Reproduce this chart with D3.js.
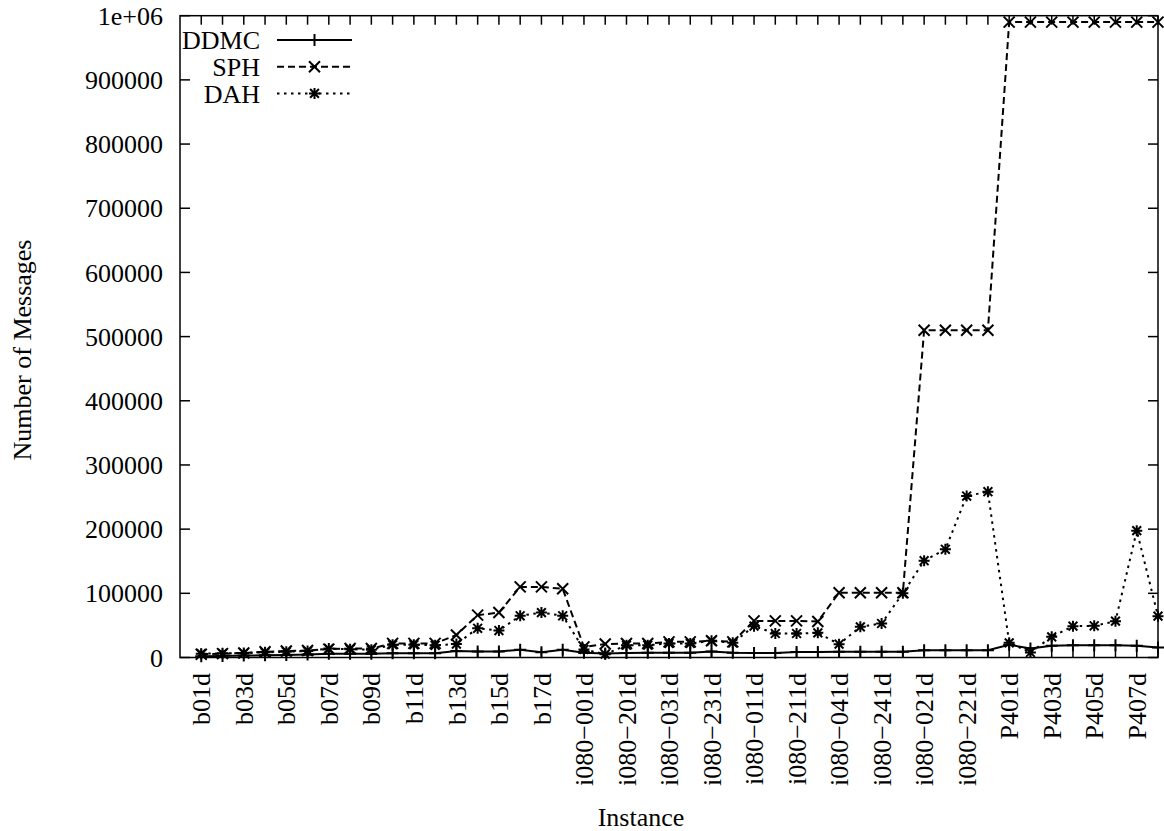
<!DOCTYPE html>
<html>
<head>
<meta charset="utf-8">
<script src="https://cdn.jsdelivr.net/npm/d3@7.9.0/dist/d3.min.js"></script>
<style>
  body { margin: 0; background: #fff; }
  svg { display: block; }
</style>
</head>
<body>
<svg id="chart" width="1164" height="831"></svg>
<script>
// instance names, in plot order
const instances = [
    'b01d', 'b02d', 'b03d', 'b04d', 'b05d', 'b06d', 'b07d', 'b08d', 'b09d',
    'b10d', 'b11d', 'b12d', 'b13d', 'b14d', 'b15d', 'b16d', 'b17d', 'b18d',
    'i080-001d', 'i080-101d', 'i080-201d', 'i080-301d',
    'i080-031d', 'i080-131d', 'i080-231d', 'i080-331d',
    'i080-011d', 'i080-111d', 'i080-211d', 'i080-311d',
    'i080-041d', 'i080-141d', 'i080-241d', 'i080-341d',
    'i080-021d', 'i080-121d', 'i080-221d', 'i080-321d',
    'P401d', 'P402d', 'P403d', 'P404d', 'P405d', 'P406d', 'P407d', 'P408d'
];

const ddmc = [
    2000, 2500, 3000, 3500, 4000, 4500, 6000, 6000, 6000, 6500, 6500, 6500,
    10000, 9500, 9500, 12000, 8000, 12000,
    7300, 6200, 7000, 7500, 7500, 7500, 9500, 7500, 7000, 7000, 8500, 8500,
    8800, 8800, 8800, 8800, 11400, 11400, 11400, 11400,
    20000, 14000, 18200, 19200, 19200, 19200, 18200, 15600
];

const sph = [
    5000, 6000, 7000, 9000, 10000, 11000, 13000, 14000, 14000, 22000, 22000, 22000,
    35000, 66000, 70000, 110000, 110000, 107000,
    16600, 21000, 21800, 21800, 24400, 24400, 26000, 24400, 57000, 57000, 57000, 56000,
    101000, 101000, 101000, 101000, 510000, 510000, 510000, 510000,
    990000, 990000, 990000, 990000, 990000, 990000, 990000, 990000
];

const dah = [
    6000, 6500, 7000, 8000, 9000, 10000, 14000, 13000, 12000, 20000, 20000, 19000,
    21000, 45500, 42000, 65000, 70000, 65000,
    12500, 5200, 19200, 19200, 21800, 21800, 26000, 22800, 48800, 37400, 37400, 38400,
    20800, 47800, 53000, 100000, 150800, 168600, 251600, 258300,
    22800, 7800, 32200, 48800, 49400, 56600, 197600, 64400
];

const yTicks = [0, 100000, 200000, 300000, 400000, 500000, 600000, 700000, 800000, 900000, 1000000];

const series = [
    { name: 'DDMC', values: ddmc, dash: null, marker: 'plus' },
    { name: 'SPH', values: sph, dash: '7,4', marker: 'cross' },
    { name: 'DAH', values: dah, dash: '2.5,4.5', marker: 'star' }
];

const plotLeft = 180, plotRight = 1158, plotTop = 15.7, plotBottom = 657.5;
const svg = d3.select('#chart').style('font-family', "'Liberation Serif', serif");

svg.append('rect').attr('width', 1164).attr('height', 831).attr('fill', '#fff');

let x = d3.scaleLinear().domain([-1, instances.length - 1]).range([plotLeft, plotRight]);
let y = d3.scaleLinear().domain([0, 1000000]).range([plotBottom, plotTop]);

// draws a gnuplot style point symbol
function drawMarker(g, type, cx, cy) {
    let s = type === 'plus' ? 6 : 5.5;
    let p = '';
    if (type === 'plus' || type === 'star') {
        p += `M${cx - s},${cy}H${cx + s}M${cx},${cy - s}V${cy + s}`;
    }
    if (type === 'cross' || type === 'star') {
        let d = type === 'star' ? s * 0.8 : s;
        p += `M${cx - d},${cy - d}L${cx + d},${cy + d}M${cx - d},${cy + d}L${cx + d},${cy - d}`;
    }
    g.append('path').attr('d', p).attr('stroke', '#000').attr('stroke-width', 2).attr('fill', 'none');
}

// ticks, inward, mirrored
let tickG = svg.append('g').attr('stroke', '#000').attr('stroke-width', 1.5);
yTicks.forEach((t) => {
    tickG.append('line').attr('x1', plotLeft).attr('x2', plotLeft + 10).attr('y1', y(t)).attr('y2', y(t));
    tickG.append('line').attr('x1', plotRight).attr('x2', plotRight - 10).attr('y1', y(t)).attr('y2', y(t));
});
instances.forEach((d, i) => {
    tickG.append('line').attr('x1', x(i)).attr('x2', x(i)).attr('y1', plotBottom).attr('y2', plotBottom - 9);
    tickG.append('line').attr('x1', x(i)).attr('x2', x(i)).attr('y1', plotTop).attr('y2', plotTop + 9);
});

// y tick labels
svg.append('g').selectAll('text')
    .data(yTicks)
    .join('text')
    .attr('x', plotLeft - 17)
    .attr('y', (d) => y(d))
    .attr('dy', '0.35em')
    .attr('text-anchor', 'end')
    .attr('font-size', 26)
    .text((d) => d === 1000000 ? '1e+06' : d);

// x tick labels, every other instance
svg.append('g').selectAll('text')
    .data(instances.filter((d, i) => i % 2 === 0))
    .join('text')
    .attr('transform', (d) => `translate(${x(instances.indexOf(d))},673) rotate(-90)`)
    .attr('dy', '0.35em')
    .attr('text-anchor', 'end')
    .attr('font-size', 26)
    .text((d) => d.replace('-', '\u2212'));

// axis titles
svg.append('text')
    .attr('x', 641)
    .attr('y', 826)
    .attr('text-anchor', 'middle')
    .attr('font-size', 26)
    .text('Instance');

svg.append('text')
    .attr('transform', 'translate(22,350) rotate(-90)')
    .attr('dy', '0.35em')
    .attr('text-anchor', 'middle')
    .attr('font-size', 26)
    .text('Number of Messages');

// series lines and points
let line = d3.line().x((d, i) => x(i)).y((d) => y(d));
series.forEach((s) => {
    let g = svg.append('g');
    g.append('path')
        .attr('d', line(s.values))
        .attr('fill', 'none')
        .attr('stroke', '#000')
        .attr('stroke-width', 2)
        .attr('stroke-dasharray', s.dash);
    s.values.forEach((v, i) => drawMarker(g, s.marker, x(i), y(v)));
});

// legend
series.forEach((s, idx) => {
    let ly = 40 + idx * 26.7;
    svg.append('text')
        .attr('x', 260)
        .attr('y', ly)
        .attr('dy', '0.35em')
        .attr('text-anchor', 'end')
        .attr('font-size', 26)
        .text(s.name);
    svg.append('line')
        .attr('x1', 277).attr('x2', 352)
        .attr('y1', ly).attr('y2', ly)
        .attr('stroke', '#000')
        .attr('stroke-width', 2)
        .attr('stroke-dasharray', s.dash);
    drawMarker(svg, s.marker, 314.5, ly);
});

// border
svg.append('rect')
    .attr('x', plotLeft).attr('y', plotTop)
    .attr('width', plotRight - plotLeft).attr('height', plotBottom - plotTop)
    .attr('fill', 'none')
    .attr('stroke', '#000')
    .attr('stroke-width', 1.5);
</script>
</body>
</html>
